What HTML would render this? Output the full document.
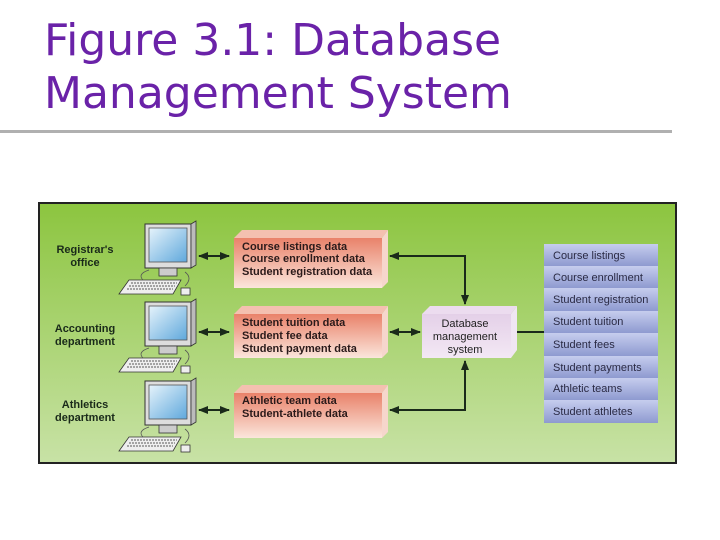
<!DOCTYPE html>
<html><head><meta charset="utf-8"><style>
body{margin:0;width:720px;height:540px;background:#fff;overflow:hidden;position:relative;font-family:"DejaVu Sans","Liberation Sans",sans-serif}
.t{position:absolute;left:44px;color:#6a22a8;font-size:44px;line-height:53px;top:14px;font-family:"DejaVu Sans",sans-serif;white-space:nowrap}
</style></head><body>
<div class="t">Figure 3.1: Database<br>Management System</div>
<div style="position:absolute;left:0;top:130px;width:672px;height:3px;background:#b0b0b0"></div>
<svg width="720" height="540" style="position:absolute;left:0;top:0" font-family="Liberation Sans, sans-serif">
<defs>
<linearGradient id="g" x1="0" y1="0" x2="0" y2="1"><stop offset="0" stop-color="#8cc53f"/><stop offset="1" stop-color="#c8e2a6"/></linearGradient>
<linearGradient id="r" x1="0" y1="0" x2="0" y2="1"><stop offset="0" stop-color="#e9826a"/><stop offset="1" stop-color="#fbe6dc"/></linearGradient>
<linearGradient id="p" x1="0" y1="0" x2="0" y2="1"><stop offset="0" stop-color="#e4d0e8"/><stop offset="1" stop-color="#f3e8f4"/></linearGradient>
<linearGradient id="b" x1="0" y1="0" x2="0" y2="1"><stop offset="0" stop-color="#c6cdee"/><stop offset="1" stop-color="#8e9ad0"/></linearGradient>
<linearGradient id="m" x1="0" y1="0" x2="1" y2="1"><stop offset="0" stop-color="#e6f3fb"/><stop offset="1" stop-color="#5fa8dc"/></linearGradient>
<marker id="a" viewBox="0 0 10 10" refX="9" refY="5" markerWidth="5" markerHeight="5" orient="auto-start-reverse"><path d="M0,1L10,5L0,9z" fill="#1a2a1a"/></marker>
<g id="pc">
<rect x="0" y="0" width="46" height="44" fill="#ddd" stroke="#333" stroke-width="1"/>
<rect x="4" y="4" width="38" height="34" fill="url(#m)" stroke="#555" stroke-width=".8"/>
<path d="M46,0 l5,-3 v44 l-5,3z" fill="#bbb" stroke="#333" stroke-width=".8"/>
<rect x="14" y="44" width="18" height="8" fill="#ccc" stroke="#333" stroke-width=".8"/>
<path d="M-16,56 h52 l-8,14 h-54z" fill="#eee" stroke="#333" stroke-width=".8"/>
<path d="M-14,59 h46 M-16,62 h46 M-18,65 h46" stroke="#777" stroke-width="1.2" stroke-dasharray="2 1"/>
<path d="M4,46 q-12,4 -6,10 M40,48 q8,6 0,14" fill="none" stroke="#555" stroke-width=".8"/>
<rect x="36" y="64" width="9" height="7" fill="#eee" stroke="#333" stroke-width=".8"/>
</g>
</defs>
<rect x="39" y="203" width="637" height="260" fill="url(#g)" stroke="#222" stroke-width="2"/>
<g font-size="11" font-weight="bold" fill="#1a2a1a" text-anchor="middle">
<text x="85" y="253">Registrar's</text><text x="85" y="266">office</text>
<text x="85" y="332">Accounting</text><text x="85" y="345">department</text>
<text x="85" y="408">Athletics</text><text x="85" y="421">department</text>
</g>
<use href="#pc" x="145" y="224"/><use href="#pc" x="145" y="302"/><use href="#pc" x="145" y="381"/>
<g stroke="#1a2a1a" stroke-width="2" fill="none">
<line x1="199" y1="256" x2="229" y2="256" marker-start="url(#a)" marker-end="url(#a)"/>
<line x1="199" y1="332" x2="229" y2="332" marker-start="url(#a)" marker-end="url(#a)"/>
<line x1="199" y1="410" x2="229" y2="410" marker-start="url(#a)" marker-end="url(#a)"/>
<path d="M390,256 H465 V304" marker-start="url(#a)" marker-end="url(#a)"/>
<path d="M390,410 H465 V361" marker-start="url(#a)" marker-end="url(#a)"/>
<line x1="390" y1="332" x2="420" y2="332" marker-start="url(#a)" marker-end="url(#a)"/>
<line x1="517" y1="332" x2="544" y2="332"/>
</g>
<g>
<path d="M234,238 l8,-8 h146 l-6,8z" fill="#f4c0b0"/><path d="M382,238 l6,-8 v52 l-6,6z" fill="#f6d6cc"/><rect x="234" y="238" width="148" height="50" fill="url(#r)"/>
<path d="M234,314 l8,-8 h146 l-6,8z" fill="#f4c0b0"/><path d="M382,314 l6,-8 v46 l-6,6z" fill="#f6d6cc"/><rect x="234" y="314" width="148" height="44" fill="url(#r)"/>
<path d="M234,393 l8,-8 h146 l-6,8z" fill="#f4c0b0"/><path d="M382,393 l6,-8 v47 l-6,6z" fill="#f6d6cc"/><rect x="234" y="393" width="148" height="45" fill="url(#r)"/>
</g>
<g font-size="11" font-weight="bold" fill="#2a1a1a">
<text x="242" y="250">Course listings data</text><text x="242" y="262">Course enrollment data</text><text x="242" y="275">Student registration data</text>
<text x="242" y="326">Student tuition data</text><text x="242" y="339">Student fee data</text><text x="242" y="352">Student payment data</text>
<text x="242" y="404">Athletic team data</text><text x="242" y="417">Student-athlete data</text>
</g>
<path d="M422,314 l8,-8 h87 l-6,8z" fill="#ecdcef"/><path d="M511,314 l6,-8 v44 l-6,8z" fill="#f0e6f2"/>
<rect x="422" y="314" width="89" height="44" fill="url(#p)"/>
<g font-size="11" fill="#222" text-anchor="middle"><text x="465" y="327">Database</text><text x="465" y="340">management</text><text x="465" y="353">system</text></g>
<g font-size="11" fill="#2a2a44">
<rect x="544" y="244" width="114" height="22" fill="url(#b)"/><text x="553" y="259">Course listings</text>
<rect x="544" y="266" width="114" height="22" fill="url(#b)"/><text x="553" y="281">Course enrollment</text>
<rect x="544" y="288" width="114" height="23" fill="url(#b)"/><text x="553" y="303">Student registration</text>
<rect x="544" y="311" width="114" height="22" fill="url(#b)"/><text x="553" y="325">Student tuition</text>
<rect x="544" y="333" width="114" height="23" fill="url(#b)"/><text x="553" y="348">Student fees</text>
<rect x="544" y="356" width="114" height="22" fill="url(#b)"/><text x="553" y="371">Student payments</text>
<rect x="544" y="378" width="114" height="22" fill="url(#b)"/><text x="553" y="392">Athletic teams</text>
<rect x="544" y="400" width="114" height="23" fill="url(#b)"/><text x="553" y="415">Student athletes</text>
</g>
</svg>
</body></html>
